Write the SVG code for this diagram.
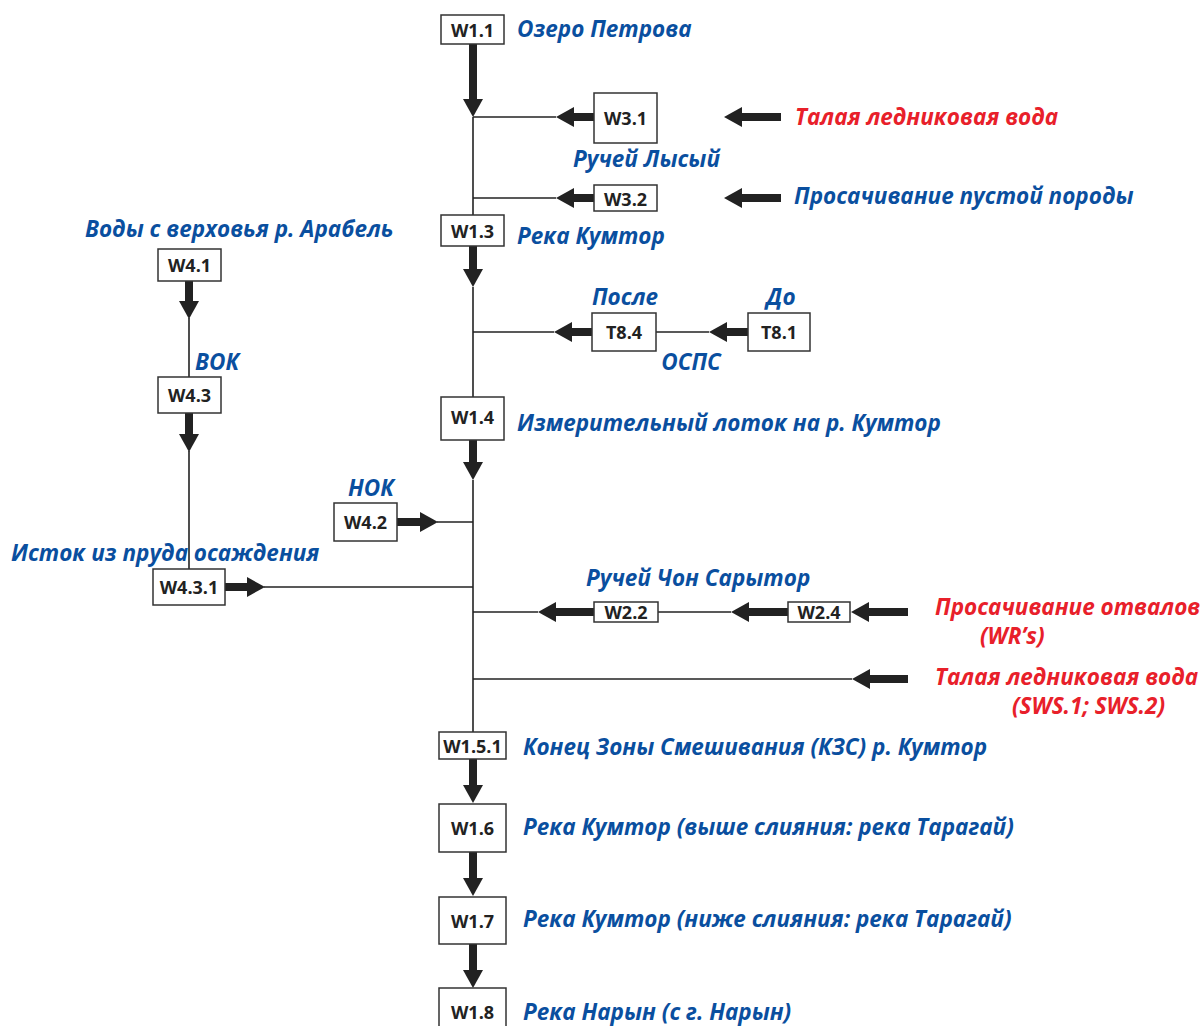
<svg xmlns="http://www.w3.org/2000/svg" width="1200" height="1026" viewBox="0 0 1200 1026">
<style>
.box{fill:#fff;stroke:#333;stroke-width:1.5}
.bt{font-family:"Open Sans","DejaVu Sans",sans-serif;font-weight:bold;font-size:18px;fill:#222;text-anchor:middle;dominant-baseline:central}
.lb{font-family:"Open Sans","DejaVu Sans",sans-serif;font-weight:bold;font-style:italic;font-size:22.5px;fill:#0a4f9f}
.rd{fill:#e8202a}
.thin{stroke:#222;stroke-width:1.6;fill:none}
.thick{stroke:#222;stroke-width:8;fill:none;marker-end:url(#ah)}
</style>
<defs>
<marker id="ah" markerUnits="userSpaceOnUse" viewBox="0 0 18 20" markerWidth="18" markerHeight="20" refX="0" refY="10" orient="auto">
<path d="M0,0 L18,10 L0,20 z" fill="#222"/>
</marker>
</defs>
<rect width="1200" height="1026" fill="#fff"/>
<g id="connectors">
<line class="thick" x1="473" y1="44" x2="473" y2="99"/>
<line class="thin" x1="473" y1="117" x2="473" y2="215"/>
<line class="thin" x1="473" y1="117" x2="556" y2="117"/>
<line class="thick" x1="594" y1="117" x2="574" y2="117"/>
<line class="thick" x1="781" y1="117" x2="742" y2="117"/>
<line class="thin" x1="473" y1="198" x2="556" y2="198"/>
<line class="thick" x1="594" y1="198" x2="574" y2="198"/>
<line class="thick" x1="781" y1="198" x2="742" y2="198"/>
<line class="thick" x1="473" y1="246" x2="473" y2="269"/>
<line class="thin" x1="473" y1="287" x2="473" y2="397"/>
<line class="thin" x1="473" y1="332" x2="554" y2="332"/>
<line class="thick" x1="592" y1="332" x2="572" y2="332"/>
<line class="thin" x1="656" y1="332" x2="709" y2="332"/>
<line class="thick" x1="748" y1="332" x2="727" y2="332"/>
<line class="thick" x1="473" y1="440" x2="473" y2="462"/>
<line class="thin" x1="473" y1="480" x2="473" y2="732"/>
<line class="thick" x1="397" y1="522" x2="420" y2="522"/>
<line class="thin" x1="437" y1="522" x2="473" y2="522"/>
<line class="thick" x1="225" y1="587" x2="247" y2="587"/>
<line class="thin" x1="264" y1="587" x2="473" y2="587"/>
<line class="thick" x1="189" y1="281" x2="189" y2="301"/>
<line class="thin" x1="189" y1="318" x2="189" y2="377"/>
<line class="thick" x1="189" y1="413" x2="189" y2="434"/>
<line class="thin" x1="189" y1="451" x2="189" y2="569"/>
<line class="thin" x1="473" y1="612" x2="538" y2="612"/>
<line class="thick" x1="594" y1="612" x2="556" y2="612"/>
<line class="thin" x1="658" y1="612" x2="731" y2="612"/>
<line class="thick" x1="788" y1="612" x2="749" y2="612"/>
<line class="thick" x1="908" y1="612" x2="869" y2="612"/>
<line class="thin" x1="473" y1="679" x2="852" y2="679"/>
<line class="thick" x1="908" y1="679" x2="870" y2="679"/>
<line class="thick" x1="473" y1="759" x2="473" y2="785"/>
<line class="thick" x1="473" y1="852" x2="473" y2="878"/>
<line class="thick" x1="473" y1="944" x2="473" y2="970"/>
</g>
<g id="W1.1"><rect class="box" x="441" y="15" width="63" height="29"/><text class="bt" x="472.5" y="30">W1.1</text><text class="lb" x="517" y="37">Озеро Петрова</text></g>
<g id="W3.1"><rect class="box" x="594" y="93" width="63" height="50"/><text class="bt" x="625.5" y="118">W3.1</text></g>
<g id="src1"><text class="lb rd" x="795" y="125">Талая ледниковая вода</text></g>
<g id="lysy"><text class="lb" x="573" y="167">Ручей Лысый</text></g>
<g id="W3.2"><rect class="box" x="594" y="185" width="63" height="26"/><text class="bt" x="625.5" y="198.5">W3.2</text></g>
<g id="src2"><text class="lb" x="794" y="204">Просачивание пустой породы</text></g>
<g id="W1.3"><rect class="box" x="441" y="215" width="63" height="31"/><text class="bt" x="472.5" y="230.5">W1.3</text><text class="lb" x="517" y="244">Река Кумтор</text></g>
<g id="T8.4"><rect class="box" x="592" y="313" width="64" height="38"/><text class="bt" x="624" y="332">T8.4</text><text class="lb" x="625" y="305" text-anchor="middle">После</text></g>
<g id="T8.1"><rect class="box" x="748" y="313" width="62" height="38"/><text class="bt" x="779" y="332">T8.1</text><text class="lb" x="781" y="305" text-anchor="middle">До</text></g>
<g id="ospc"><text class="lb" x="691" y="370" text-anchor="middle">ОСПС</text></g>
<g id="W1.4"><rect class="box" x="441" y="397" width="63" height="43"/><text class="bt" x="472.5" y="417">W1.4</text><text class="lb" x="517" y="431">Измерительный лоток на р. Кумтор</text></g>
<g id="W4.1"><rect class="box" x="158" y="249" width="63" height="32"/><text class="bt" x="189.5" y="265">W4.1</text><text class="lb" x="85" y="237">Воды с верховья р. Арабель</text></g>
<g id="W4.3"><rect class="box" x="158" y="377" width="63" height="36"/><text class="bt" x="189.5" y="395">W4.3</text><text class="lb" x="195" y="370">ВОК</text></g>
<g id="W4.2"><rect class="box" x="334" y="503" width="63" height="38"/><text class="bt" x="365.5" y="522">W4.2</text><text class="lb" x="348" y="496">НОК</text></g>
<g id="W4.3.1"><rect class="box" x="153" y="569" width="72" height="36"/><text class="bt" x="189" y="587">W4.3.1</text><text class="lb" x="11" y="561">Исток из пруда осаждения</text></g>
<g id="W2.2"><rect class="box" x="594" y="602" width="64" height="20"/><text class="bt" x="626" y="612">W2.2</text><text class="lb" x="586" y="586">Ручей Чон Сарытор</text></g>
<g id="W2.4"><rect class="box" x="788" y="602" width="62" height="20"/><text class="bt" x="819" y="612">W2.4</text></g>
<g id="src3"><text class="lb rd" x="935" y="615">Просачивание отвалов</text><text class="lb rd" x="980" y="644">(WR’s)</text></g>
<g id="src4"><text class="lb rd" x="935" y="685">Талая ледниковая вода</text><text class="lb rd" x="1012" y="714">(SWS.1; SWS.2)</text></g>
<g id="W1.5.1"><rect class="box" x="439" y="732" width="67" height="27"/><text class="bt" x="472.5" y="745.5">W1.5.1</text><text class="lb" x="523" y="755">Конец Зоны Смешивания (КЗС) р. Кумтор</text></g>
<g id="W1.6"><rect class="box" x="439" y="804" width="67" height="48"/><text class="bt" x="472.5" y="828">W1.6</text><text class="lb" x="523" y="835">Река Кумтор (выше слияния: река Тарагай)</text></g>
<g id="W1.7"><rect class="box" x="439" y="897" width="67" height="47"/><text class="bt" x="472.5" y="920.5">W1.7</text><text class="lb" x="523" y="927">Река Кумтор (ниже слияния: река Тарагай)</text></g>
<g id="W1.8"><rect class="box" x="439" y="988" width="67" height="48"/><text class="bt" x="472.5" y="1012">W1.8</text><text class="lb" x="523" y="1020">Река Нарын (с г. Нарын)</text></g>
</svg>
